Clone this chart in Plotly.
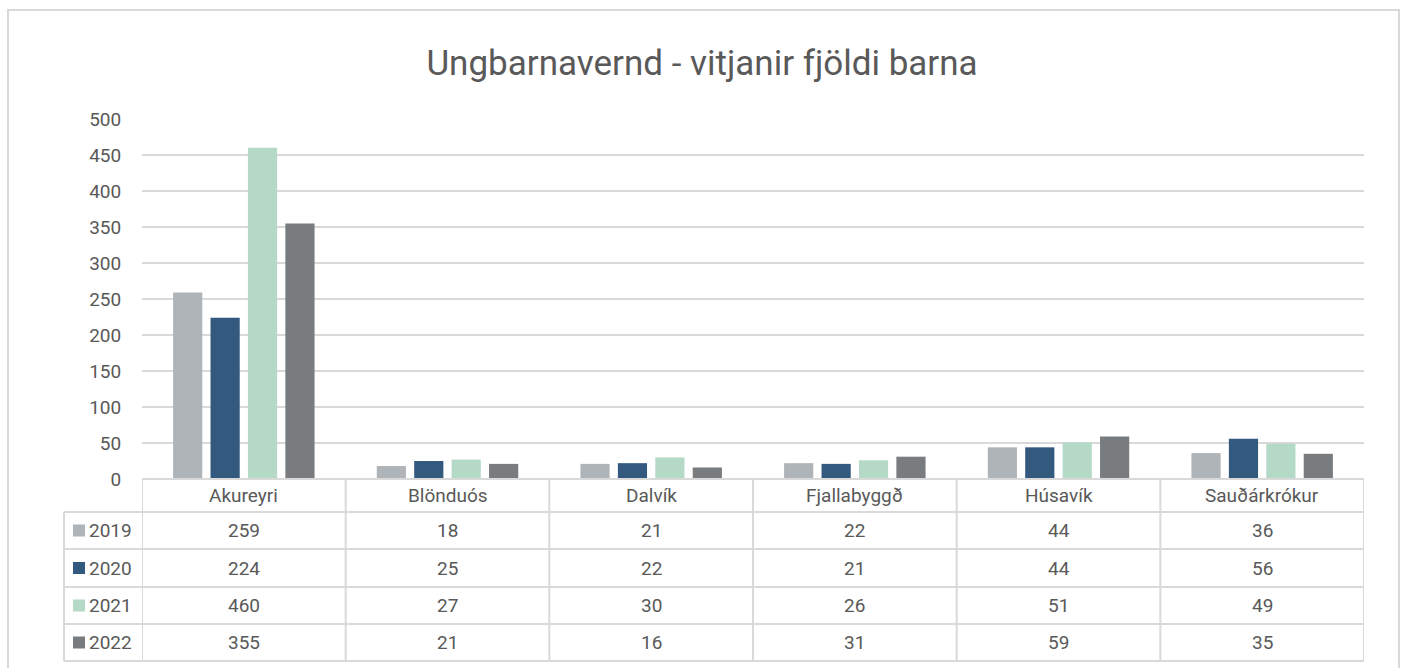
import plotly.graph_objects as go

W, H = 1405, 668

title = "Ungbarnavernd - vitjanir fjöldi barna"
categories = ["Akureyri", "Blönduós", "Dalvík", "Fjallabyggð", "Húsavík", "Sauðárkrókur"]
years = ["2019", "2020", "2021", "2022"]
v2019 = [259, 18, 21, 22, 44, 36]
v2020 = [224, 25, 22, 21, 44, 56]
v2021 = [460, 27, 30, 26, 51, 49]
v2022 = [355, 21, 16, 31, 59, 35]
series = [v2019, v2020, v2021, v2022]
colors = ["#AFB4B8", "#33597F", "#B4D9C6", "#787C7E"]
y_ticks = [0, 50, 100, 150, 200, 250, 300, 350, 400, 450, 500]

TXT = "#595959"
LINE = "#D9D9D9"
FONT = "Roboto"
FS = 19


def px(x):
    return x / W


def py(y):
    return 1 - y / H


plot_left, plot_right = 142, 1364
plot_top, plot_bottom = 119, 479
table_left = 64
row_edges = [479, 512, 549, 587, 624, 661]

fig = go.Figure()
for name, vals, col in zip(years, series, colors):
    fig.add_trace(go.Bar(x=categories, y=vals, name=name, marker=dict(color=col, line=dict(width=0))))

shapes = []
annotations = []

# outer border
shapes.append(dict(type="rect", xref="paper", yref="paper", x0=px(8), x1=px(1399), y0=py(680), y1=py(10),
                   line=dict(color=LINE, width=2), fillcolor="rgba(0,0,0,0)", layer="below"))

# table horizontal lines
for i, ye in enumerate(row_edges):
    x0 = plot_left if i == 0 else table_left
    shapes.append(dict(type="line", xref="paper", yref="paper", x0=px(x0), x1=px(plot_right),
                       y0=py(ye), y1=py(ye), line=dict(color=LINE, width=2)))
# table vertical lines (category boundaries)
for i in range(len(categories) + 1):
    shapes.append(dict(type="line", xref="x", yref="paper", x0=i - 0.5, x1=i - 0.5,
                       y0=py(row_edges[0]), y1=py(row_edges[-1]), line=dict(color=LINE, width=2)))
shapes.append(dict(type="line", xref="paper", yref="paper", x0=px(table_left), x1=px(table_left),
                   y0=py(row_edges[1]), y1=py(row_edges[-1]), line=dict(color=LINE, width=2)))

# header text
hc = (row_edges[0] + row_edges[1]) / 2
for c in categories:
    annotations.append(dict(x=c, y=py(hc), xref="x", yref="paper", text=c, showarrow=False,
                            font=dict(size=FS, color=TXT, family=FONT), xanchor="center", yanchor="middle"))

# rows
for r, (name, vals, col) in enumerate(zip(years, series, colors)):
    yc = (row_edges[r + 1] + row_edges[r + 2]) / 2
    shapes.append(dict(type="rect", xref="paper", yref="paper", x0=px(73), x1=px(85),
                       y0=py(yc + 6), y1=py(yc - 6), line=dict(width=0), fillcolor=col))
    annotations.append(dict(x=px(87), y=py(yc), xref="paper", yref="paper", text=name, showarrow=False,
                            font=dict(size=FS, color=TXT, family=FONT), xanchor="left", yanchor="middle"))
    for c, v in zip(categories, vals):
        annotations.append(dict(x=c, y=py(yc), xref="x", yref="paper", text=str(v), showarrow=False,
                                font=dict(size=FS, color=TXT, family=FONT), xanchor="center", yanchor="middle"))

fig.update_layout(
    width=W, height=H,
    margin=dict(l=0, r=0, t=0, b=0),
    paper_bgcolor="white", plot_bgcolor="white",
    title=dict(text=title, x=px(702), xanchor="center", y=py(63), yanchor="middle",
               font=dict(size=35, color=TXT, family=FONT)),
    showlegend=False,
    barmode="group", bargap=0.265, bargroupgap=0.22,
    xaxis=dict(domain=[px(plot_left), px(plot_right)], showticklabels=False, showgrid=False,
               zeroline=False, showline=False, ticks="", range=[-0.5, len(categories) - 0.5],
               automargin=False),
    yaxis=dict(domain=[py(plot_bottom), py(plot_top)], range=[0, 500], tickvals=y_ticks,
               showgrid=True, gridcolor=LINE, gridwidth=2, zeroline=False, showline=False,
               ticks="outside", ticklen=16, tickcolor="rgba(0,0,0,0)", automargin=False,
               tickfont=dict(size=FS, color=TXT, family=FONT)),
    shapes=shapes, annotations=annotations,
)

post = (
    "document.body.style.margin='0';document.body.style.overflow='hidden';"
    "var d=document.querySelector('.plotly-graph-div');"
    "d.style.position='fixed';d.style.top='0px';d.style.left='0px';"
)
fig.write_html("out.html", config={"displayModeBar": False}, post_script=post)
